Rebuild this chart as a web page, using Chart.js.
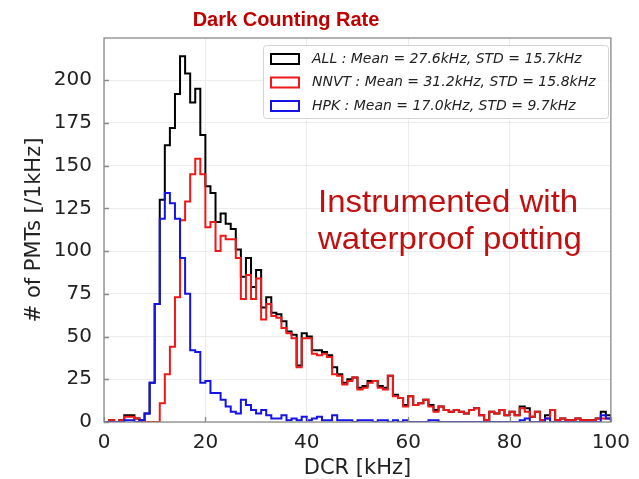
<!DOCTYPE html>
<html>
<head>
<meta charset="utf-8">
<title>Dark Counting Rate</title>
<script src="https://cdn.jsdelivr.net/npm/chart.js@4.4.1/dist/chart.umd.min.js"></script>
<style>
  html, body { margin: 0; padding: 0; background: #ffffff; }
  canvas { display: block; }
</style>
</head>
<body>
<canvas id="dcrChart" width="639" height="479"></canvas>
<script>
// DCR histogram, 1 kHz bins from 0 to 100 kHz (value i = bin [i, i+1))
const xTicks = [0, 20, 40, 60, 80, 100];
const yTicks = [0, 25, 50, 75, 100, 125, 150, 175, 200];

const allCounts = [
  0, 1, 0, 1, 4, 4, 2, 1, 5, 23,
  69, 130, 162, 172, 192, 214, 204, 187, 195, 168,
  138, 134, 117, 122, 116, 113, 101, 85, 96, 79,
  89, 67, 73, 64, 63, 59, 53, 51, 33, 52,
  50, 42, 42, 41, 39, 32, 28, 23, 25, 26,
  20, 21, 24, 24, 21, 20, 27, 16, 14, 10,
  15, 10, 11, 13, 10, 7, 9, 7, 6, 7,
  6, 5, 7, 8, 4, 1, 6, 5, 7, 4,
  6, 4, 9, 8, 3, 6, 1, 4, 7, 1,
  2, 1, 1, 2, 1, 1, 1, 2, 6, 4
];

const nnvtCounts = [
  0, 1, 0, 1, 3, 3, 2, 0, 0, 0,
  0, 11, 28, 44, 73, 118, 129, 145, 154, 145,
  114, 117, 100, 109, 107, 107, 96, 72, 86, 72,
  84, 60, 69, 62, 61, 55, 52, 49, 32, 49,
  49, 40, 39, 40, 38, 28, 27, 22, 24, 26,
  19, 20, 23, 24, 20, 19, 27, 15, 14, 9,
  15, 10, 11, 13, 9, 6, 9, 7, 6, 7,
  6, 5, 7, 8, 4, 1, 6, 5, 7, 4,
  6, 4, 8, 6, 3, 6, 1, 2, 7, 1,
  2, 1, 1, 2, 1, 1, 1, 2, 2, 2
];

const hpkCounts = [
  0, 0, 0, 0, 1, 1, 0, 1, 5, 23,
  69, 119, 134, 128, 119, 96, 75, 42, 41, 23,
  24, 17, 17, 13, 9, 6, 5, 13, 10, 7,
  5, 7, 4, 2, 2, 4, 1, 2, 1, 3,
  1, 2, 3, 1, 1, 4, 1, 1, 1, 0,
  1, 1, 1, 0, 1, 1, 0, 1, 0, 1,
  0, 0, 0, 0, 1, 1, 0, 0, 0, 0,
  0, 0, 0, 0, 0, 0, 0, 0, 0, 0,
  0, 0, 1, 2, 0, 0, 0, 2, 0, 0,
  0, 0, 0, 0, 0, 0, 0, 0, 4, 2
];

const seriesLabels = [
  'ALL : Mean = 27.6kHz, STD = 15.7kHz',
  'NNVT : Mean = 31.2kHz, STD = 15.8kHz',
  'HPK : Mean = 17.0kHz, STD = 9.7kHz'
];
const seriesColors = ['#000000', '#f01818', '#1414e6'];

// outline of a step histogram: bin i is a flat run over [i, i+1],
// starting from 0 at the first edge and dropping back to 0 at the last
function stepPoints(counts) {
  const pts = [];
  counts.forEach((c, i) => pts.push({ x: i, y: c }));
  pts.push({ x: counts.length, y: counts[counts.length - 1] });
  return [{ x: 0, y: 0 }].concat(pts, [{ x: counts.length, y: 0 }]);
}

function makeSet(idx, counts, order) {
  return {
    label: seriesLabels[idx],
    data: stepPoints(counts),
    borderColor: seriesColors[idx],
    borderWidth: 2,
    // 'before': horizontal at the previous value, then vertical
    stepped: 'before',
    pointRadius: 0,
    fill: false,
    order: order
  };
}

// frame, inward ticks, title, note and the legend box
const decorations = {
  id: 'decorations',
  afterDraw(chart) {
    const { ctx, chartArea: a, scales } = chart;
    ctx.save();

    ctx.strokeStyle = '#8a8a8a';
    ctx.lineWidth = 1.3;
    ctx.strokeRect(a.left, a.top, a.right - a.left, a.bottom - a.top);

    ctx.beginPath();
    xTicks.forEach(v => {
      const px = Math.round(scales.x.getPixelForValue(v)) + 0.5;
      ctx.moveTo(px, a.bottom);
      ctx.lineTo(px, a.bottom - 5);
    });
    yTicks.forEach(v => {
      const py = Math.round(scales.y.getPixelForValue(v)) + 0.5;
      ctx.moveTo(a.left, py);
      ctx.lineTo(a.left + 5, py);
    });
    ctx.stroke();

    ctx.fillStyle = '#c00000';
    ctx.font = 'bold 20px "Liberation Sans", Arial, sans-serif';
    ctx.textAlign = 'center';
    ctx.textBaseline = 'middle';
    ctx.fillText('Dark Counting Rate', 286, 20);

    ctx.fillStyle = '#c01010';
    ctx.font = '32px "Liberation Sans", Arial, sans-serif';
    ctx.textAlign = 'left';
    ctx.textBaseline = 'alphabetic';
    ctx.save();
    ctx.translate(318, 0);
    ctx.scale(1.03, 1);
    ctx.fillText('Instrumented with', 0, 212);
    ctx.fillText('waterproof potting', 0, 249);
    ctx.restore();

    // legend
    const bx = 263, by = 45, bw = 345, bh = 73;
    ctx.fillStyle = 'rgba(255,255,255,0.85)';
    ctx.strokeStyle = '#d4d4d4';
    ctx.lineWidth = 1;
    ctx.beginPath();
    ctx.roundRect(bx + 0.5, by + 0.5, bw, bh, 3);
    ctx.fill();
    ctx.stroke();

    ctx.font = 'italic 14px "DejaVu Sans", sans-serif';
    ctx.textBaseline = 'middle';
    chart.data.datasets.forEach((ds, i) => {
      const cy = by + 14 + i * 23.5;
      ctx.strokeStyle = ds.borderColor;
      ctx.lineWidth = 2;
      ctx.strokeRect(271, cy - 5, 28, 10);
      ctx.fillStyle = '#222222';
      ctx.fillText(ds.label, 312, cy);
    });

    ctx.restore();
  }
};

new Chart(document.getElementById('dcrChart').getContext('2d'), {
  type: 'line',
  data: {
    datasets: [
      makeSet(0, allCounts, 2),
      makeSet(1, nnvtCounts, 1),
      makeSet(2, hpkCounts, 0)
    ]
  },
  options: {
    responsive: false,
    animation: false,
    devicePixelRatio: 1,
    layout: { padding: { left: 0, top: 38, right: 24, bottom: 0 } },
    plugins: {
      legend: { display: false },
      tooltip: { enabled: false }
    },
    scales: {
      x: {
        type: 'linear',
        min: 0,
        max: 100,
        afterBuildTicks: s => { s.ticks = xTicks.map(v => ({ value: v })); },
        afterFit: s => { s.height = 57; },
        ticks: {
          padding: 9,
          color: '#222222',
          font: { family: '"DejaVu Sans", sans-serif', size: 20 }
        },
        grid: { color: '#ececec', drawTicks: false },
        border: { display: false },
        title: {
          display: true,
          text: 'DCR [kHz]',
          color: '#222222',
          padding: { top: 0, bottom: 0 },
          font: { family: '"DejaVu Sans", sans-serif', size: 21, lineHeight: 1 }
        }
      },
      y: {
        min: 0,
        max: 224.7,
        afterBuildTicks: s => { s.ticks = yTicks.map(v => ({ value: v })); },
        afterFit: s => { s.width = 104; },
        ticks: {
          padding: 12,
          color: '#222222',
          font: { family: '"DejaVu Sans", sans-serif', size: 20 }
        },
        grid: { color: '#ececec', drawTicks: false },
        border: { display: false },
        title: {
          display: true,
          text: '# of PMTs [/1kHz]',
          color: '#222222',
          padding: { top: 24, bottom: 0 },
          font: { family: '"DejaVu Sans", sans-serif', size: 21, lineHeight: 1 }
        }
      }
    }
  },
  plugins: [decorations]
});
</script>
</body>
</html>
